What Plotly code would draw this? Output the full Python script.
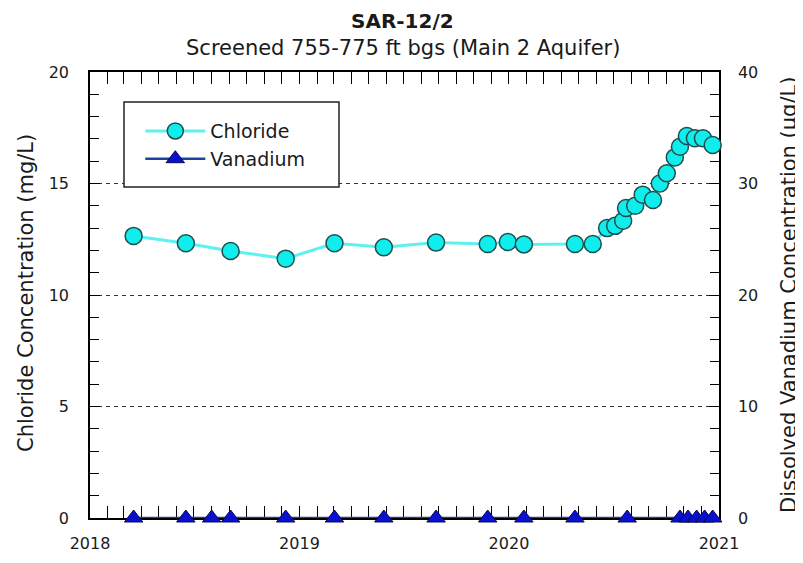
import plotly.graph_objects as go

# ---- data ----
chloride_dates = [
    "2018-03-18", "2018-06-17", "2018-09-03", "2018-12-08", "2019-03-03",
    "2019-05-28", "2019-08-27", "2019-11-25", "2019-12-30", "2020-01-27",
    "2020-04-25", "2020-05-26", "2020-06-20", "2020-07-04", "2020-07-18",
    "2020-07-23", "2020-08-08", "2020-08-21", "2020-09-08", "2020-09-20",
    "2020-10-02", "2020-10-16", "2020-10-25", "2020-11-06", "2020-11-20",
    "2020-12-04", "2020-12-21",
]
chloride_mg_l = [
    12.65, 12.32, 11.97, 11.63, 12.32,
    12.14, 12.35, 12.29, 12.38, 12.27,
    12.29, 12.29, 13.0, 13.1, 13.33,
    13.9, 14.0, 14.5, 14.26, 15.0,
    15.46, 16.17, 16.65, 17.13, 17.03,
    17.03, 16.73,
]
vanadium_dates = [
    "2018-03-18", "2018-06-17", "2018-08-01", "2018-09-03", "2018-12-08",
    "2019-03-03", "2019-05-28", "2019-08-27", "2019-11-25", "2020-01-27",
    "2020-04-25", "2020-07-25", "2020-10-25", "2020-11-08", "2020-11-23",
    "2020-12-07", "2020-12-21",
]
vanadium_ug_l = [0] * 17
year_ticks = ["2018-01-01", "2019-01-01", "2020-01-01", "2021-01-01"]
year_labels = ["2018", "2019", "2020", "2021"]

FONT = "DejaVu Sans"
TXT = "#1a1a1a"

fig = go.Figure()
fig.add_trace(go.Scatter(
    x=chloride_dates, y=chloride_mg_l, name="Chloride", mode="lines+markers",
    line=dict(color="#5ff0f0", width=3),
    marker=dict(symbol="circle", size=17, color="#10eded",
                line=dict(color="#1d4f4f", width=1.5)),
    cliponaxis=False,
))
fig.add_trace(go.Scatter(
    x=vanadium_dates, y=vanadium_ug_l, name="Vanadium", mode="lines+markers",
    yaxis="y2",
    line=dict(color="#1a44a0", width=2.5),
    marker=dict(symbol="triangle-up", size=16, color="#0a10d0",
                line=dict(color="#0a0a50", width=1)),
    cliponaxis=False,
))

axis_common = dict(
    showline=True, linecolor="black", linewidth=1.5,
    ticks="inside", tickcolor="black", tickwidth=1,
    tickfont=dict(family=FONT, size=16, color=TXT),
    zeroline=False, automargin=False, layer="below traces",
)

# page body has an 8px default margin, so the figure is 795x555
fig.update_layout(
    width=795, height=555,
    margin=dict(l=82, r=84, t=64, b=45, autoexpand=False),
    paper_bgcolor="white", plot_bgcolor="white",
    font=dict(family=FONT, color=TXT),
    showlegend=True,
    legend=dict(x=0.08, y=0.91, xanchor="left", yanchor="top",
                bgcolor="rgba(0,0,0,0)", borderwidth=0,
                font=dict(family=FONT, size=19, color=TXT),
                itemwidth=60, tracegroupgap=0),
    xaxis=dict(
        **axis_common, type="date",
        range=["2018-01-01", "2021-01-01"],
        tickvals=year_ticks, ticktext=year_labels, ticklen=12,
        ticklabelstandoff=10,
        mirror="allticks", showgrid=False,
        minor=dict(dtick="M1", tick0="2018-01-01", ticks="inside",
                   ticklen=7, tickcolor="black", showgrid=False),
    ),
    yaxis=dict(
        **axis_common, range=[0, 20], dtick=5, ticklen=10,
        ticklabelstandoff=16,
        showgrid=True, gridcolor="#333", gridwidth=1.2, griddash="4px,4px",
        minor=dict(dtick=1, ticks="inside", ticklen=9, tickcolor="black",
                   showgrid=False),
    ),
    yaxis2=dict(
        **axis_common, range=[0, 40], dtick=10, ticklen=10,
        overlaying="y", side="right", ticklabelstandoff=14,
        showgrid=False,
        minor=dict(dtick=2, ticks="inside", ticklen=9, tickcolor="black",
                   showgrid=False),
    ),
    shapes=[dict(type="rect", xref="paper", yref="paper",
                 x0=(124 - 90) / 629, x1=(339 - 90) / 629,
                 y0=(518 - 187) / 446, y1=(518 - 102) / 446,
                 line=dict(color="#222", width=1.5), fillcolor="white",
                 layer="above")],
    annotations=[
        dict(text="<b>SAR-12/2</b>", xref="paper", yref="paper",
             x=0.4976, y=(518 - 21) / 446, xanchor="center", yanchor="middle",
             borderpad=0,
             showarrow=False, font=dict(family=FONT, size=20, color=TXT)),
        dict(text="Screened 755-775 ft bgs (Main 2 Aquifer)", xref="paper",
             yref="paper", x=0.4976, y=(518 - 48) / 446, xanchor="center",
             yanchor="middle", showarrow=False,
             font=dict(family=FONT, size=21, color=TXT)),
        dict(text="Chloride Concentration (mg/L)", xref="paper", yref="paper",
             x=(26 - 90) / 629, y=(518 - 293) / 446, xanchor="center",
             yanchor="middle", textangle=-90, showarrow=False,
             font=dict(family=FONT, size=21, color=TXT)),
        dict(text="Dissolved Vanadium Concentration (µg/L)", xref="paper",
             yref="paper", x=(789 - 90) / 629, y=(518 - 295) / 446,
             xanchor="center", yanchor="middle", textangle=-90,
             showarrow=False, font=dict(family=FONT, size=21, color=TXT)),
    ],
)

fig.write_html("out.html")
